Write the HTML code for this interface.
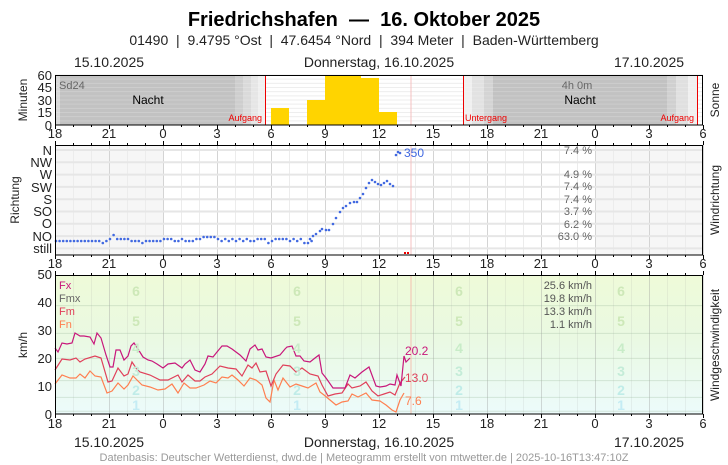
<!DOCTYPE html>
<html><head><meta charset="utf-8"><style>
body{margin:0;background:#fff;}
svg{display:block;font-family:"Liberation Sans",sans-serif;}
.pre{white-space:pre;}
</style></head><body>
<svg id="s" width="728" height="465" viewBox="0 0 728 465" xmlns="http://www.w3.org/2000/svg">
<defs>
<linearGradient id="bg" x1="0" y1="0" x2="0" y2="1">
<stop offset="0" stop-color="#eefad8"/><stop offset="0.45" stop-color="#eaf9e2"/><stop offset="1" stop-color="#ecfbfb"/>
</linearGradient>
</defs>
<text class="pre" x="364" y="26" text-anchor="middle" font-size="20" font-weight="bold">Friedrichshafen  —  16. Oktober 2025</text>
<text class="pre" x="364" y="45" text-anchor="middle" font-size="14" fill="#222">01490  |  9.4795 °Ost  |  47.6454 °Nord  |  394 Meter  |  Baden-Württemberg</text>
<g font-size="14" fill="#222" text-anchor="middle">
<text x="109" y="67">15.10.2025</text><text x="379" y="67">Donnerstag, 16.10.2025</text><text x="649" y="67">17.10.2025</text>
<text x="109" y="447">15.10.2025</text><text x="379" y="447">Donnerstag, 16.10.2025</text><text x="649" y="447">17.10.2025</text>
</g>
<rect x="55" y="75" width="648" height="50" fill="#fff"/>
<g id="topgrid"></g>
<rect x="55" y="75" width="5" height="50" fill="#d8d8d8"/>
<rect x="60" y="75" width="175" height="50" fill="#c2c2c2"/>
<rect x="235" y="75" width="8" height="50" fill="#cecece"/>
<rect x="243" y="75" width="8" height="50" fill="#dadada"/>
<rect x="251" y="75" width="7" height="50" fill="#e6e6e6"/>
<rect x="258" y="75" width="7" height="50" fill="#f0f0f0"/>
<rect x="463" y="75" width="9" height="50" fill="#f0f0f0"/>
<rect x="472" y="75" width="12" height="50" fill="#e2e2e2"/>
<rect x="484" y="75" width="9" height="50" fill="#d4d4d4"/>
<rect x="493" y="75" width="174" height="50" fill="#c2c2c2"/>
<rect x="667" y="75" width="9" height="50" fill="#d0d0d0"/>
<rect x="676" y="75" width="12" height="50" fill="#e0e0e0"/>
<rect x="688" y="75" width="9" height="50" fill="#f0f0f0"/>
<g id="topgrid2"></g>
<g fill="#ffd400">
<rect x="271" y="108" width="18" height="17"/>
<rect x="307" y="100" width="18" height="25"/>
<rect x="325" y="75" width="36" height="50"/>
<rect x="361" y="78" width="18" height="47"/>
<rect x="379" y="112" width="18" height="13"/>
</g>
<line x1="265.5" y1="75" x2="265.5" y2="125" stroke="#e00" stroke-width="1"/>
<line x1="463.5" y1="75" x2="463.5" y2="125" stroke="#e00" stroke-width="1"/>
<line x1="697.5" y1="75" x2="697.5" y2="125" stroke="#e00" stroke-width="1"/>
<line x1="411" y1="75" x2="411" y2="125" stroke="#f4c0c0" stroke-width="1"/>
<text x="59" y="89" font-size="11" fill="#666">Sd24</text>
<text x="148" y="104" font-size="12" text-anchor="middle">Nacht</text>
<text x="580" y="104" font-size="12" text-anchor="middle">Nacht</text>
<text x="577" y="89" font-size="11" fill="#666" text-anchor="middle">4h 0m</text>
<g font-size="9" fill="#e00">
<text x="262" y="121" text-anchor="end">Aufgang</text>
<text x="465" y="121">Untergang</text>
<text x="694" y="121" text-anchor="end">Aufgang</text>
</g>
<rect x="55.5" y="75.5" width="647" height="49.5" fill="none" stroke="#000"/>
<g font-size="13" fill="#222" text-anchor="end">
<text x="52" y="80">60</text><text x="52" y="92">45</text><text x="52" y="105">30</text><text x="52" y="117">15</text><text x="52" y="130">0</text>
</g>
<text transform="translate(27,100) rotate(-90)" font-size="12" text-anchor="middle" fill="#222">Minuten</text>
<text transform="translate(719,100) rotate(-90)" font-size="12" text-anchor="middle" fill="#222">Sonne</text>
<rect x="55" y="145" width="648" height="110" fill="#fff"/>
<rect x="55" y="145" width="108" height="110" fill="#f6f6f6"/>
<rect x="595" y="145" width="108" height="110" fill="#f6f6f6"/>
<g id="midgrid"></g>
<line x1="411" y1="145" x2="411" y2="255" stroke="#f4c0c0"/>
<g id="dots" fill="#4169e1"></g>
<rect x="404" y="252" width="2" height="2" fill="#e00"/><rect x="407" y="252" width="2" height="2" fill="#e00"/>
<text x="404" y="157" font-size="12" fill="#4169e1">350</text>
<g font-size="11" fill="#666" text-anchor="end">
<text x="592" y="154">7.4 %</text><text x="592" y="178">4.9 %</text><text x="592" y="190">7.4 %</text><text x="592" y="203">7.4 %</text><text x="592" y="215">3.7 %</text><text x="592" y="228">6.2 %</text><text x="592" y="240">63.0 %</text>
</g>
<rect x="55.5" y="145.5" width="647" height="109.5" fill="none" stroke="#000"/>
<g font-size="13" fill="#222" text-anchor="end">
<text x="52" y="155">N</text><text x="52" y="167">NW</text><text x="52" y="179">W</text><text x="52" y="192">SW</text><text x="52" y="204">S</text><text x="52" y="216">SO</text><text x="52" y="228">O</text><text x="52" y="241">NO</text><text x="52" y="253">still</text>
</g>
<text transform="translate(19,200) rotate(-90)" font-size="12" text-anchor="middle" fill="#222">Richtung</text>
<text transform="translate(719,200) rotate(-90)" font-size="12" text-anchor="middle" fill="#222">Windrichtung</text>
<rect x="55" y="275" width="648" height="139" fill="url(#bg)"/>
<g id="botgrid"></g>
<line x1="411" y1="275" x2="411" y2="414" stroke="#f4c0b0"/>
<g font-size="11">
<text x="59" y="289" fill="#c8177b">Fx</text><text x="59" y="302" fill="#666">Fmx</text><text x="59" y="315" fill="#e0405a">Fm</text><text x="59" y="328" fill="#ff7f50">Fn</text>
</g>
<g font-size="11" fill="#555" text-anchor="end">
<text x="592" y="289">25.6 km/h</text><text x="592" y="302">19.8 km/h</text><text x="592" y="315">13.3 km/h</text><text x="592" y="328">1.1 km/h</text>
</g>
<polyline fill="none" stroke="#ff7f50" stroke-width="1.2" points="55,384 62,375 70,378 76,378 80,374 85,378 90,371 95,376 101,377 107,393 112,391 118,383 124,389 128,385 133,376 137,380 142,385 150,387 158,390 165,389 172,384 178,393 184,383 190,388 196,388 204,385 210,381 216,383 222,377 228,378 232,375 238,380 244,386 250,378 256,380 262,385 266,398 270,402 274,380 278,390 283,378 290,387 296,384 302,386 308,388 316,383 320,392 324,395 330,400 336,405 342,402 348,401 352,394 358,397 366,393 372,400 380,401 386,405 392,410 396,412 400,400 404,393"/>
<polyline fill="none" stroke="#e0405a" stroke-width="1.2" points="55,370 62,359 70,360 76,358 80,362 85,359 95,356 101,358 108,382 112,381 118,368 124,376 128,374 132,362 136,368 140,372 150,375 160,380 168,380 178,375 182,382 188,375 195,381 200,381 205,377 212,374 220,366 228,368 236,369 242,376 248,365 252,368 256,363 260,372 266,371 271,386 276,374 283,365 290,366 296,372 302,368 310,374 318,376 322,385 328,396 335,394 342,393 348,384 352,388 360,386 366,382 372,391 378,396 384,394 390,392 395,395 400,383 405,377"/>
<polyline fill="none" stroke="#c8177b" stroke-width="1.2" points="55,348 58,352 62,343 67,344 72,343 75,333 80,336 84,336 90,337 94,344 97,333 101,338 106,355 110,367 113,367 116,350 120,350 124,360 128,356 131,346 134,343 138,349 143,357 148,360 152,361 157,364 163,368 168,364 175,363 182,368 185,364 190,360 195,370 200,372 205,364 208,356 213,357 217,352 222,346 227,346 232,349 240,355 246,361 250,349 255,345 258,350 262,349 266,357 271,358 280,355 285,349 287,347 292,346 296,356 300,356 304,361 310,362 315,358 319,355 322,373 326,378 333,388 340,388 345,388 350,375 355,378 362,372 369,367 376,386 380,387 386,386 390,384 395,385 397,375 401,386 404,356 406,362 410,358"/>
<g font-size="12">
<text x="405" y="355" fill="#c8177b">20.2</text><text x="405" y="382" fill="#e0405a">13.0</text><text x="405" y="405" fill="#ff7f50">7.6</text>
</g>
<rect x="55.5" y="275.5" width="647" height="138.5" fill="none" stroke="#000"/>
<g font-size="13" fill="#222" text-anchor="end">
<text x="52" y="279">50</text><text x="52" y="307">40</text><text x="52" y="335">30</text><text x="52" y="363">20</text><text x="52" y="391">10</text><text x="52" y="419">0</text>
</g>
<text transform="translate(27,345) rotate(-90)" font-size="12" text-anchor="middle" fill="#222">km/h</text>
<text transform="translate(719,345) rotate(-90)" font-size="12" text-anchor="middle" fill="#222">Windgeschwindigkeit</text>
<g font-size="13" fill="#222" text-anchor="middle">
<text x="55" y="138">18</text><text x="109" y="138">21</text><text x="163" y="138">0</text><text x="217" y="138">3</text><text x="271" y="138">6</text><text x="325" y="138">9</text><text x="379" y="138">12</text><text x="433" y="138">15</text><text x="487" y="138">18</text><text x="541" y="138">21</text><text x="595" y="138">0</text><text x="649" y="138">3</text><text x="703" y="138">6</text>
<text x="55" y="268">18</text><text x="109" y="268">21</text><text x="163" y="268">0</text><text x="217" y="268">3</text><text x="271" y="268">6</text><text x="325" y="268">9</text><text x="379" y="268">12</text><text x="433" y="268">15</text><text x="487" y="268">18</text><text x="541" y="268">21</text><text x="595" y="268">0</text><text x="649" y="268">3</text><text x="703" y="268">6</text>
<text x="55" y="428">18</text><text x="109" y="428">21</text><text x="163" y="428">0</text><text x="217" y="428">3</text><text x="271" y="428">6</text><text x="325" y="428">9</text><text x="379" y="428">12</text><text x="433" y="428">15</text><text x="487" y="428">18</text><text x="541" y="428">21</text><text x="595" y="428">0</text><text x="649" y="428">3</text><text x="703" y="428">6</text>
</g>
<g fill="#cde8b8" font-size="14" font-weight="bold" text-anchor="middle">
<text x="136" y="296">6</text><text x="297" y="296">6</text><text x="459" y="296">6</text><text x="621" y="296">6</text>
<text x="136" y="326">5</text><text x="297" y="326">5</text><text x="459" y="326">5</text><text x="621" y="326">5</text>
<text x="136" y="353" fill="#c8ecc8">4</text><text x="297" y="353" fill="#c8ecc8">4</text><text x="459" y="353" fill="#c8ecc8">4</text><text x="621" y="353" fill="#c8ecc8">4</text>
<text x="136" y="376" fill="#c4ecd8">3</text><text x="297" y="376" fill="#c4ecd8">3</text><text x="459" y="376" fill="#c4ecd8">3</text><text x="621" y="376" fill="#c4ecd8">3</text>
<text x="136" y="395" fill="#c0ece8">2</text><text x="297" y="395" fill="#c0ece8">2</text><text x="459" y="395" fill="#c0ece8">2</text><text x="621" y="395" fill="#c0ece8">2</text>
<text x="136" y="410" fill="#c4ecf4">1</text><text x="297" y="410" fill="#c4ecf4">1</text><text x="459" y="410" fill="#c4ecf4">1</text><text x="621" y="410" fill="#c4ecf4">1</text>
</g>
<text x="364" y="461" text-anchor="middle" font-size="11" fill="#999">Datenbasis: Deutscher Wetterdienst, dwd.de | Meteogramm erstellt von mtwetter.de | 2025-10-16T13:47:10Z</text>
<g id="ticks"></g>
</svg>
<script>
var NS="http://www.w3.org/2000/svg";
function el(p,t,a){var e=document.createElementNS(NS,t);for(var k in a)e.setAttribute(k,a[k]);document.getElementById(p).appendChild(e);return e;}
function L(p,x1,y1,x2,y2,c,w){el(p,"line",{x1:x1,y1:y1,x2:x2,y2:y2,stroke:c,"stroke-width":w||1});}
for(var i=0;i<=12;i++){var y=75+i*50/12;L("topgrid",55,y,703,y,"#ebebeb",1);L("topgrid2",55,y,703,y,"rgba(255,255,255,0.18)",1);}
for(var h=0;h<=36;h++){var x=55+h*18+0.5;var maj=h%3==0;
 L("midgrid",x,145,x,255,maj?"#d4d4d4":"#ececec",1);
 L("botgrid",x,275,x,414,maj?"rgba(150,150,150,0.35)":"rgba(150,150,150,0.12)",1);
 var tl=maj?4:2;
 L("ticks",x,125,x,125+tl,"#000");L("ticks",x,145,x,145-tl,"#000");
 L("ticks",x,255,x,255+tl,"#000");L("ticks",x,275,x,275-tl,"#000");
 L("ticks",x,414,x,414+tl,"#000");
}
for(var r=0;r<9;r++){var y=150+r*12.3;L("midgrid",55,y,703,y,"#e6e6e6",2);}
[1,6,12,20,29,39].forEach(function(v){var y=414-v*2.78;L("botgrid",55,y,703,y,"rgba(150,180,150,0.3)",1);});
var pts=[];
var base=[241,241,241,241,241,241,241,241,241,241,241,241,241,243,241,239,235,239,239,239,239,241,241,241,243,241,241,241,241,241,239,239,239,241,241,239,241,241,241,239,239,237,237,237,237,239,241,239,241,239,241,239,241,239,241,241,239,239,239,243,241,239,239,239,239,241,239,241,239,243,243,241];
for(var i=0;i<base.length;i++)pts.push([56+i*3.6,base[i]]);
[[310,239],[313,236],[316,234],[320,231],[322,229],[326,230],[329,230],[333,224],[336,218],[340,212],[343,208],[346,206],[350,203],[354,202],[357,202],[360,198],[363,194],[366,188],[369,183],[372,180],[375,182],[378,184],[381,185],[384,183],[387,181],[390,184],[393,186],[396,155],[398,152],[400,153]].forEach(function(p){pts.push(p);});
pts.forEach(function(p){el("dots","circle",{cx:p[0],cy:p[1],r:1.3});});
</script>
</body></html>
